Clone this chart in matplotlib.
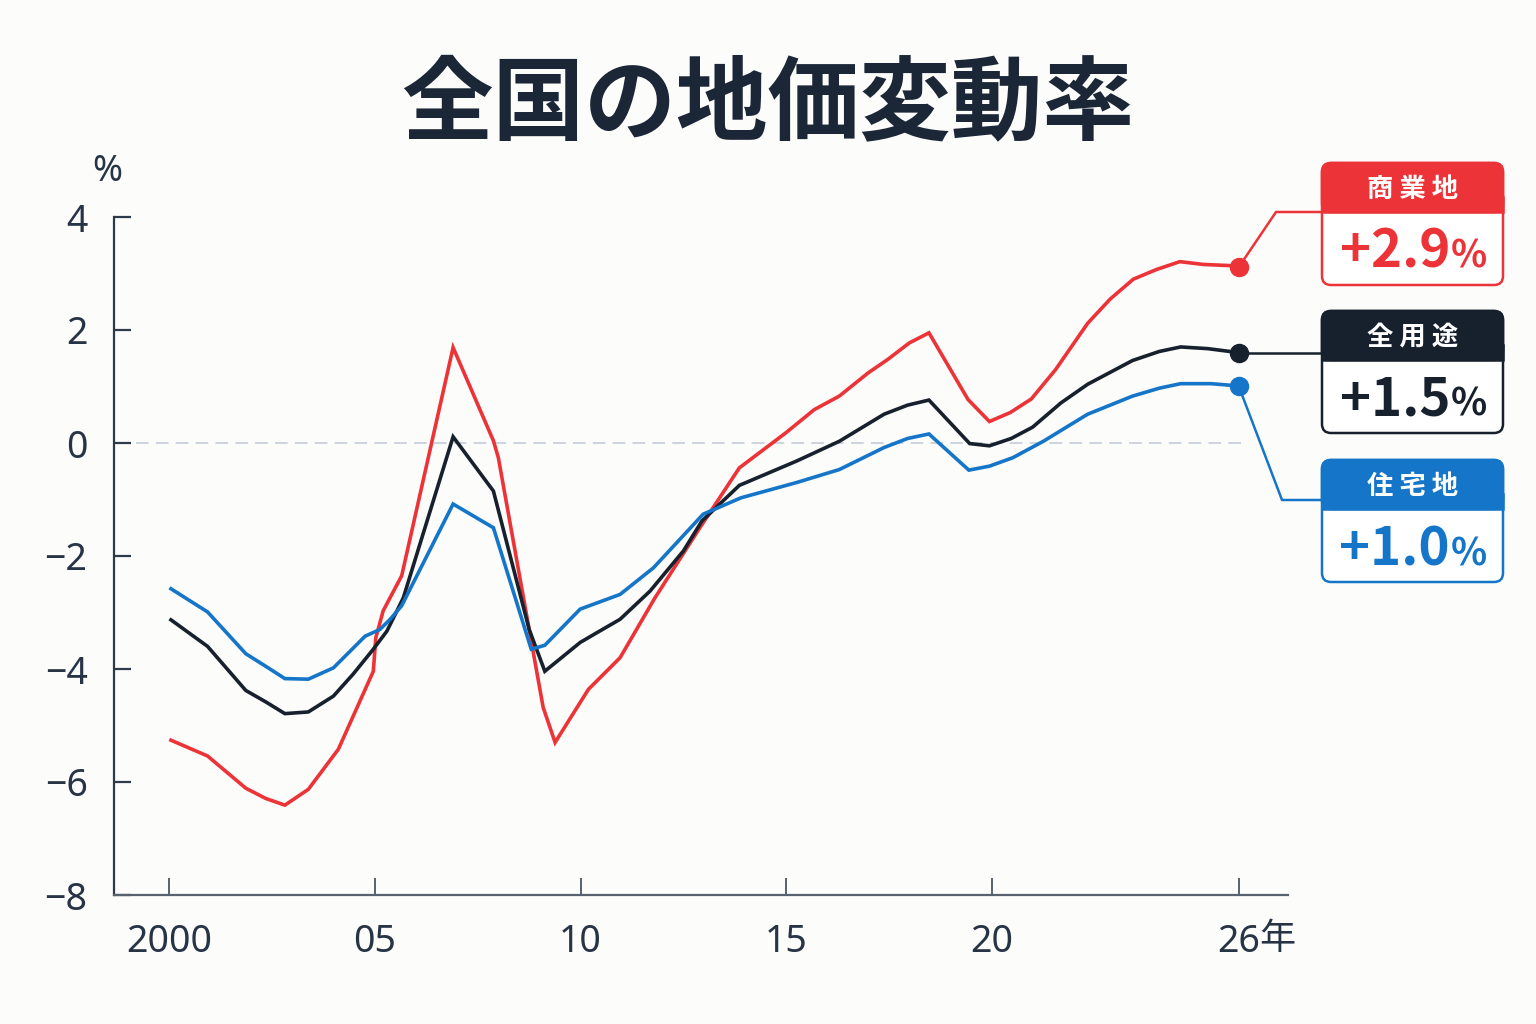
import matplotlib
matplotlib.use("Agg")
import matplotlib.pyplot as plt
from matplotlib.patches import FancyBboxPatch, Rectangle

plt.rcParams['font.family'] = ['Noto Sans', 'Noto Sans CJK JP', 'DejaVu Sans']

# 商業地
x_com = [2000.04, 2000.93, 2001.86, 2002.34, 2002.81, 2003.38, 2004.11, 2004.96, 2005.02, 2005.2,
         2005.65, 2006.9, 2007.88, 2008.0, 2009.09, 2009.38, 2010.19, 2010.96, 2011.8, 2012.9,
         2013.86, 2014.99, 2015.68, 2016.29, 2016.99, 2017.47, 2017.99, 2018.47, 2019.42, 2019.94,
         2020.45, 2020.96, 2021.55, 2022.33, 2022.88, 2023.44, 2024.0, 2024.57, 2025.14, 2025.79, 2026.0]
y_com = [-5.26, -5.54, -6.11, -6.29, -6.41, -6.13, -5.42, -4.04, -3.45, -2.97,
         -2.35, 1.69, 0.04, -0.26, -4.68, -5.30, -4.36, -3.80, -2.75, -1.50,
         -0.44, 0.18, 0.59, 0.83, 1.24, 1.48, 1.77, 1.95, 0.77, 0.38,
         0.54, 0.78, 1.30, 2.12, 2.55, 2.90, 3.07, 3.21, 3.16, 3.14, 3.11]

# 全用途
x_all = [2000.04, 2000.93, 2001.86, 2002.34, 2002.81, 2003.38, 2003.99, 2004.47, 2004.96, 2005.29,
         2005.69, 2006.9, 2007.88, 2008.75, 2009.13, 2009.99, 2010.39, 2010.96, 2011.69, 2012.5,
         2012.95, 2013.86, 2015.25, 2016.29, 2017.38, 2017.95, 2018.47, 2019.46, 2019.94, 2020.47,
         2020.99, 2021.68, 2022.33, 2023.42, 2024.07, 2024.59, 2025.25, 2026.0]
y_all = [-3.13, -3.60, -4.38, -4.58, -4.79, -4.76, -4.48, -4.09, -3.65, -3.33,
         -2.74, 0.11, -0.85, -3.30, -4.04, -3.53, -3.36, -3.12, -2.62, -1.91,
         -1.38, -0.75, -0.32, 0.03, 0.51, 0.67, 0.76, -0.01, -0.05, 0.08,
         0.28, 0.71, 1.04, 1.46, 1.62, 1.70, 1.67, 1.60]

# 住宅地
x_res = [2000.04, 2000.93, 2001.86, 2002.34, 2002.81, 2003.38, 2003.99, 2004.76, 2005.12, 2005.37,
         2005.65, 2006.9, 2007.88, 2008.8, 2009.13, 2009.99, 2010.96, 2011.77, 2012.98, 2013.9,
         2015.25, 2016.29, 2017.38, 2017.95, 2018.47, 2019.44, 2019.94, 2020.51, 2021.25, 2022.33,
         2023.42, 2024.07, 2024.59, 2025.33, 2026.0]
y_res = [-2.58, -2.99, -3.73, -3.95, -4.17, -4.18, -3.98, -3.42, -3.30, -3.12,
         -2.88, -1.08, -1.50, -3.65, -3.58, -2.94, -2.68, -2.21, -1.26, -0.97,
         -0.70, -0.47, -0.08, 0.08, 0.16, -0.48, -0.41, -0.26, 0.03, 0.51,
         0.83, 0.97, 1.05, 1.05, 1.01]

names = ['商業地', '全用途', '住宅地']
latest = ['+2.9', '+1.5', '+1.0']
xticks = [2000, 2005, 2010, 2015, 2020, 2026]
xtick_labels = ['2000', '05', '10', '15', '20', '26']
yticks = [-8, -6, -4, -2, 0, 2, 4]

RED = '#ec3338'
NAVY = '#17212d'
BLUE = '#1575c8'
TXT = '#263445'
BG = '#fcfcfb'

fig = plt.figure(figsize=(15.36, 10.24), dpi=100, facecolor=BG)

ov = fig.add_axes([0, 0, 1, 1], zorder=0)
ov.set_xlim(0, 1536)
ov.set_ylim(1024, 0)
ov.axis('off')

ax = fig.add_axes([114 / 1536, 1 - 895 / 1024, (1288 - 114) / 1536, (895 - 217) / 1024], zorder=1)
ax.set_facecolor('none')
ax.set_xlim(1998.655, 2027.2)
ax.set_ylim(-8, 4)

ax.hlines(0, 1999.2, 2026.1, colors='#c9d0da', linewidth=1.3, linestyles=(0, (7, 4)), zorder=1)

series = [(x_com, y_com, RED), (x_all, y_all, NAVY), (x_res, y_res, BLUE)]
for xs, ys, c in series:
    ax.plot(xs, ys, color=c, linewidth=2.6, solid_joinstyle='miter', zorder=3)
    ax.plot([xs[-1]], [ys[-1]], 'o', color=c, markersize=13, zorder=4)

for s in ['top', 'right']:
    ax.spines[s].set_visible(False)
ax.spines['left'].set_color('#2c3a49')
ax.spines['left'].set_linewidth(1.6)
ax.spines['bottom'].set_color('#56626f')
ax.spines['bottom'].set_linewidth(1.6)

ax.set_yticks(yticks)
ax.set_xticks(xticks)
ax.set_xticklabels(xtick_labels)
ax.tick_params(axis='y', direction='in', length=12, width=1.6, color='#2c3a49',
               labelsize=27, labelcolor=TXT, pad=19)
ax.tick_params(axis='x', direction='in', length=12, width=1.4, color='#56626f',
               labelsize=27, labelcolor=TXT, pad=20)

ax.annotate('年', xy=(2026, 0), xycoords=('data', 'axes fraction'), xytext=(28, -32),
            textcoords='offset points', ha='center', va='center', fontsize=26,
            color=TXT, family=['Noto Sans CJK JP'])

ov.text(107, 172, '%', ha='center', va='center', fontsize=26, color=TXT)
ov.text(768, 105, '全国の地価変動率', ha='center', va='center', fontsize=66,
        fontweight='bold', color='#1b2736', family=['Noto Sans CJK JP'])

# labels on the right
box_top = [163, 311, 460]
box_h = 122
head_h = 49
bx, bw = 1322, 181
colors = [RED, NAVY, BLUE]
elbow = [(1276, 212), None, (1282, 500)]
join_y = [212, 351, 500]

for i in range(3):
    c = colors[i]
    top = box_top[i]
    # connector from the end dot
    ex, ey = ax.transData.transform((series[i][0][-1], series[i][1][-1]))
    ey = 1024 - ey
    if elbow[i] is None:
        px, py = [ex, bx], [ey, ey]
    else:
        px, py = [ex, elbow[i][0], bx], [ey, elbow[i][1], join_y[i]]
    ov.plot(px, py, color=c, linewidth=1.8, zorder=2)

    ov.add_patch(FancyBboxPatch((bx, top), bw, box_h, boxstyle='round,pad=0,rounding_size=9',
                                facecolor='white', edgecolor=c, linewidth=1.8, zorder=3))
    ov.add_patch(FancyBboxPatch((bx, top), bw, head_h, boxstyle='round,pad=0,rounding_size=9',
                                facecolor=c, edgecolor=c, linewidth=1.8, zorder=4))
    ov.add_patch(Rectangle((bx, top + head_h - 15), bw, 15, facecolor=c, edgecolor=c,
                           linewidth=1.8, zorder=4))
    ov.text(bx + bw / 2, top + head_h / 2 + 2, ' '.join(names[i]), ha='center', va='center',
            fontsize=19, fontweight='bold', color='white', family=['Noto Sans CJK JP'], zorder=5)
    ov.text(1450, top + 105, latest[i], ha='right', va='baseline', fontsize=38,
            fontweight='bold', color=c, family=['Noto Sans CJK JP'], zorder=5)
    ov.text(1451, top + 105, '%', ha='left', va='baseline', fontsize=27,
            fontweight='bold', color=c, family=['Noto Sans CJK JP'], zorder=5)

fig.savefig('out.png', dpi=100, facecolor=BG)
